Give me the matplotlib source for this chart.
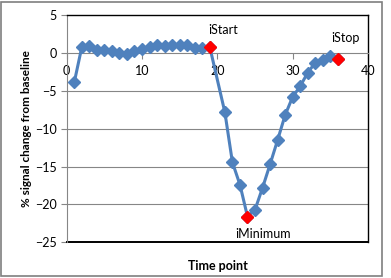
"""Time course of % signal change with iStart / iMinimum / iStop markers."""

import matplotlib.pyplot as plt
from matplotlib.patches import Rectangle

# time points (no sample at 20)
time_points = list(range(1, 20)) + list(range(21, 37))
signal = [
    -3.9, 0.75, 0.9, 0.4, 0.35, 0.3, 0.0, -0.1, 0.2, 0.5,
    0.8, 1.0, 0.95, 1.1, 1.0, 1.0, 0.7, 0.7, 0.75,
    -7.85, -14.45, -17.4, -21.6, -20.7, -17.8, -14.7, -11.5, -8.2, -5.8,
    -4.4, -2.6, -1.3, -0.95, -0.45, -0.85,
]

marker_names = ["iStart", "iMinimum", "iStop"]
marker_x = [19, 24, 36]
marker_y = [0.75, -21.6, -0.85]

x_ticks = [0, 10, 20, 30, 40]
y_ticks = [-25, -20, -15, -10, -5, 0, 5]

plt.rcParams["font.family"] = ["Lato", "DejaVu Sans"]

BLUE = "#4F81BD"
GRID = "#868686"

fig = plt.figure(figsize=(3.91, 2.78), dpi=100)
ax = fig.add_axes([0.1706, 0.1284, 0.7706, 0.8176])

ax.plot(time_points, signal, color=BLUE, linewidth=2.2, marker="D",
        markersize=6, markerfacecolor=BLUE, markeredgecolor=BLUE, zorder=3)
ax.plot(marker_x, marker_y, linestyle="none", marker="D", markersize=6,
        color="#FF0000", zorder=4)

# label offsets (points) for each highlighted sample
offsets = {"iStart": (-1, 8, "left", "bottom"),
           "iMinimum": (11, -8, "center", "top"),
           "iStop": (-5, 11, "left", "bottom")}
for name, x, y in zip(marker_names, marker_x, marker_y):
    dx, dy, ha, va = offsets[name]
    ax.annotate(name, (x, y), xytext=(dx, dy), textcoords="offset points",
                ha=ha, va=va, fontsize=9, color="#000000")

ax.set_xlim(0, 40)
ax.set_ylim(-25, 5)
ax.set_xticks(x_ticks)
ax.set_yticks(y_ticks)
ax.tick_params(labelsize=9, color=GRID, length=4, width=0.8)
ax.tick_params(axis="x", pad=5)
ax.tick_params(axis="y", pad=3)

for y in y_ticks:
    if y not in (0, -25, 5):
        ax.axhline(y, color=GRID, linewidth=0.8, zorder=1)

ax.spines["bottom"].set_position(("data", 0))
ax.spines["bottom"].set_color(GRID)
ax.spines["left"].set_color(GRID)
for side in ("top", "right"):
    ax.spines[side].set_color("black")
    ax.spines[side].set_linewidth(1.0)
# lower frame line of the plot area
ax.axhline(-25, color="black", linewidth=1.4, zorder=2, clip_on=False)

fig.text(0.069, 0.5366, "% signal change from baseline", rotation=90,
         ha="center", va="center", fontsize=8.5, fontweight="bold")
fig.text(0.5565, 0.043, "Time point", ha="center", va="center",
         fontsize=9, fontweight="bold")

# chart area border
fig.add_artist(Rectangle((1 / 391, 2 / 278), 381 / 391, 274 / 278,
                         transform=fig.transFigure, fill=False,
                         edgecolor="#7F7F7F", linewidth=1.2))

fig.savefig("out.png", dpi=100)
